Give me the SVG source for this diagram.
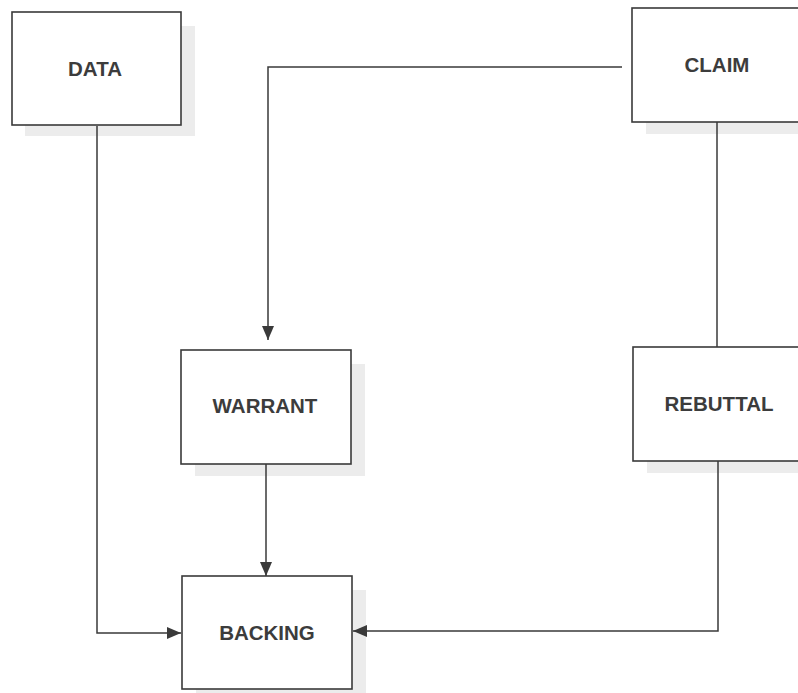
<svg xmlns="http://www.w3.org/2000/svg" width="798" height="693" viewBox="0 0 798 693">
  <defs>
    <style>
      .box { fill: #ffffff; stroke: #3a3a3a; stroke-width: 1.6; }
      .shadow { fill: #ececec; }
      .label { font-family: "Liberation Sans", Arial, sans-serif; font-weight: bold; font-size: 20.5px; fill: #3c3c3c; text-anchor: middle; }
      .conn { fill: none; stroke: #3a3a3a; stroke-width: 1.5; }
    </style>
    <marker id="arrow" viewBox="0 0 14 12" refX="14" refY="6" markerWidth="14" markerHeight="12" markerUnits="userSpaceOnUse" orient="auto">
      <path d="M0,0 L14,6 L0,12 Z" fill="#3a3a3a"/>
    </marker>
  </defs>

  <rect width="798" height="693" fill="#ffffff"/>

  <!-- drop shadows behind the boxes -->
  <g id="shadows">
    <rect class="shadow" x="25" y="26" width="170" height="110"/>
    <rect class="shadow" x="646" y="22" width="160" height="112"/>
    <rect class="shadow" x="195" y="364" width="170" height="112"/>
    <rect class="shadow" x="647" y="361" width="160" height="112"/>
    <rect class="shadow" x="196" y="590" width="170" height="103"/>
  </g>

  <g id="connectors">
    <!-- DATA to BACKING -->
    <path class="conn" d="M97,126 L97,633 L181,633" marker-end="url(#arrow)"/>
    <!-- CLAIM to WARRANT -->
    <path class="conn" d="M622,67 L268,67 L268,340" marker-end="url(#arrow)"/>
    <!-- CLAIM to REBUTTAL -->
    <path class="conn" d="M717,122 L717,347"/>
    <!-- WARRANT to BACKING -->
    <path class="conn" d="M266,464 L266,576" marker-end="url(#arrow)"/>
    <!-- REBUTTAL to BACKING -->
    <path class="conn" d="M718,461 L718,631 L353,631" marker-end="url(#arrow)"/>
  </g>

  <g id="data">
    <rect class="box" x="12" y="12" width="169" height="113"/>
    <text class="label" x="95" y="76">DATA</text>
  </g>

  <g id="claim">
    <rect class="box" x="632" y="8" width="180" height="114"/>
    <text class="label" x="717" y="72">CLAIM</text>
  </g>

  <g id="warrant">
    <rect class="box" x="181" y="350" width="170" height="114"/>
    <text class="label" x="265" y="413">WARRANT</text>
  </g>

  <g id="rebuttal">
    <rect class="box" x="633" y="347" width="180" height="114"/>
    <text class="label" x="719" y="411">REBUTTAL</text>
  </g>

  <g id="backing">
    <rect class="box" x="182" y="576" width="170" height="113"/>
    <text class="label" x="267" y="640">BACKING</text>
  </g>
</svg>
